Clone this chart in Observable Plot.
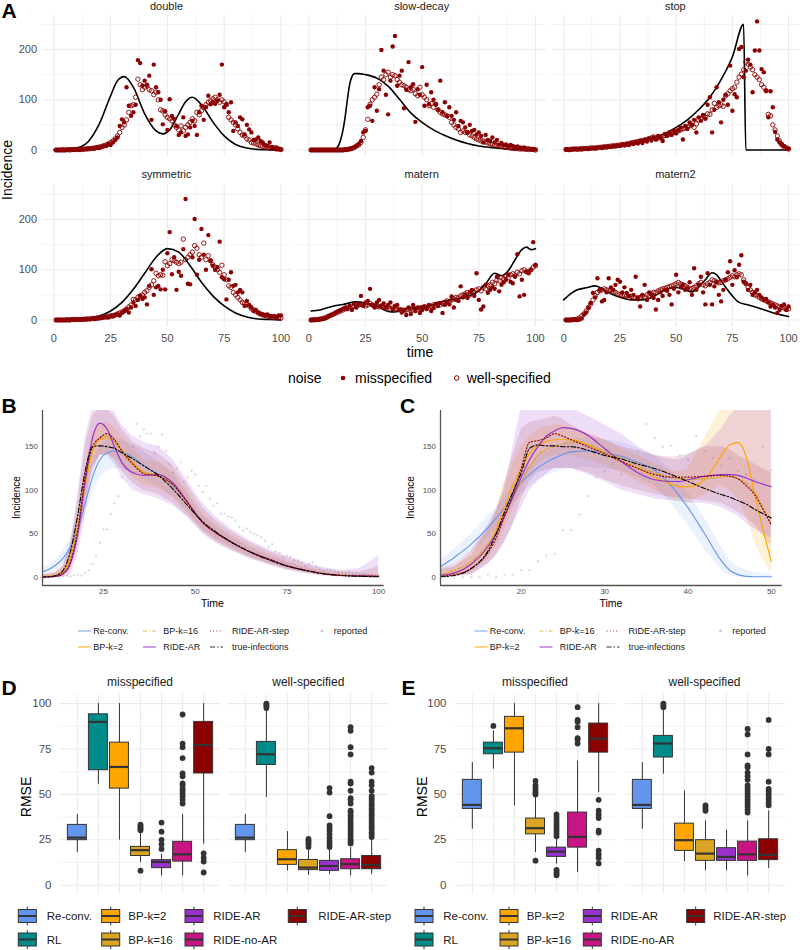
<!DOCTYPE html>
<html><head><meta charset="utf-8">
<script src="https://cdn.jsdelivr.net/npm/d3@7"></script>
<script src="https://cdn.jsdelivr.net/npm/@observablehq/plot@0.6"></script>
<style>
body{margin:0;background:#fff;}
#root{position:relative;width:800px;height:950px;overflow:hidden;background:#fff;}
</style></head><body><div id="root"></div>
<script>
// ---------------- DATA ----------------
const facetNames = ["double","slow-decay","stop","symmetric","matern","matern2"];
const noiseLevels = ["misspecified","well-specified"];

const truthDouble = [[0,0],[5,0.5],[10,4],[15,16],[20,52],[25,108],[28,138],[31,146],[35,125],[40,72],[45,38],[48,32],[51,40],[55,72],[58,96],[61,105],[65,90],[70,56],[75,28],[80,11],[85,4],[90,1],[95,0.3],[100,0]];
const truthSlow = [[1,0],[10,0],[11,1],[12,3],[13,8],[14,20],[15,38],[16,65],[17,100],[18,130],[19,146],[20,152],[22,152],[25,150],[30,143],[35,127],[40,101],[45,74],[50,55],[55,40],[60,29],[65,20],[70,13],[75,8],[80,5],[85,3],[90,1.5],[95,0.5],[100,0]];
const truthStop = [[1,3],[10,4.5],[20,8],[30,14],[40,25],[45,33],[50,45],[55,60],[60,80],[65,105],[70,140],[75,185],[80,250],[81,0],[100,0]];
const truthSym = [[1,0],[5,0.3],[10,1],[15,3],[20,8],[25,18],[30,35],[35,61],[40,93],[45,125],[50,142],[55,135],[60,108],[65,75],[70,48],[75,28],[80,14],[85,6],[90,2],[95,1],[100,0]];
const truthMatern = [[1,18],[5,20],[11,28],[15,31],[21,36],[25,33],[30,28],[35,17],[38,16],[41,21],[45,23],[50,26],[55,31],[60,38],[65,42],[70,47],[75,58],[78,72],[82,93],[85,88],[88,98],[91,120],[94,140],[96,145],[98,140],[100,142]];
const truthMatern2 = [[0,40],[3,52],[6,60],[10,64],[14,68],[18,60],[22,50],[26,44],[30,40],[34,40],[38,43],[42,52],[46,62],[50,65],[54,60],[57,56],[60,65],[63,80],[66,94],[68,90],[70,78],[72,65],[75,48],[78,35],[82,30],[86,25],[90,19],[95,12],[100,7]];

const misDouble = [0,0,0,1,0,0,1,0,1,1, 1,2,1,2,3,2,4,3,5,4, 6,9,8,12,10,15,20,25,48,61, 55,125,88,68,75,90,179,173,128,138, 130,148,60,170,125,115,100,51,77,40, 101,68,62,48,30,35,65,28,31,45, 58,48,30,75,88,60,85,108,91,95, 92,98,110,170,85,91,75,95,38,55, 48,65,61,31,50,41,35,20,21,25, 18,15,10,8,15,6,5,5,2,1];
const wellDouble = [0,0,0,0,0,1,0,1,1,1, 1,1,2,2,2,3,3,4,5,6, 7,8,10,12,15,18,22,28,35,45, 50,60,75,88,90,105,141,130,120,125, 128,120,118,110,115,100,80,78,70,65, 62,58,50,45,40,48,38,45,50,55, 62,58,75,70,78,85,90,95,98,102, 105,100,95,100,96,90,65,60,55,50, 42,35,30,28,22,20,15,14,12,10, 8,7,6,5,4,3,3,2,2,1];
const misSlow = [0,0,0,0,0,0,0,0,0,0, 0,0,0,0,0,0,1,2,3,5, 8,12,18,35,38,85,88,58,125,78, 121,199,158,110,71,138,206,227,128,148, 158,83,120,175,125,131,56,121,110,165, 88,130,91,115,100,91,80,138,75,95, 68,85,68,60,75,48,58,55,45,35, 50,38,40,31,35,28,15,30,20,18, 25,15,20,11,14,10,11,8,10,8, 6,7,5,4,5,3,3,2,2,1];
const wellSlow = [0,0,0,0,0,0,0,0,0,0, 0,0,0,0,0,1,1,2,3,5, 8,10,15,25,40,61,91,100,105,111, 130,145,140,150,155,145,150,148,140,135, 130,128,125,120,118,121,112,108,125,110, 105,100,88,92,85,91,80,75,72,70, 68,65,55,50,45,42,35,38,35,35, 30,28,25,22,20,18,18,16,14,12, 11,10,9,8,7,6,5,5,4,3, 3,3,2,2,2,1,1,1,1,0];
const misStop = [1,0,1,1,2,1,2,1,2,3, 2,3,4,3,4,5,4,6,5,7, 6,8,7,9,8,10,9,12,10,14, 12,15,13,18,14,20,17,22,19,25, 21,28,24,18,32,28,35,30,38,33, 40,45,21,48,42,55,50,60,35,65, 58,70,62,90,105,35,80,125,95,55, 100,110,90,168,78,111,105,201,205,145, 158,180,170,115,198,256,198,161,155,118, 65,117,85,36,21,15,12,8,5,3];
const wellStop = [1,1,1,2,2,2,2,3,3,3, 3,4,4,4,5,5,6,6,7,7, 8,8,9,9,10,11,11,12,13,14, 15,16,17,18,19,20,21,23,24,26, 22,24,25,27,29,30,32,34,35,37, 38,40,42,44,46,48,50,45,52,60, 62,68,65,72,71,80,93,85,88,90, 87,108,112,118,122,125,135,145,151,160, 175,171,165,160,150,145,140,130,125,118, 71,68,50,40,28,18,10,6,3,2];
const misSym = [0,0,0,0,0,1,0,1,0,1, 1,1,2,1,2,2,3,2,3,4, 4,5,6,5,8,7,10,11,9,14, 18,21,15,25,35,28,40,48,42,45, 31,68,101,50,65,68,61,100,61,133, 175,91,125,60,96,88,141,241,72,71, 125,201,90,120,181,130,100,169,118,108, 100,105,156,85,81,41,80,95,68,70, 55,60,55,28,38,30,25,18,20,15, 12,11,10,11,8,7,8,6,9,9];
const wellSym = [0,0,0,0,0,0,0,1,1,1, 1,1,1,2,2,2,3,3,4,4, 5,6,6,7,8,9,10,12,14,16, 18,22,26,30,41,40,45,48,50,55, 58,65,70,78,93,88,90,89,116,108, 112,120,118,115,112,115,161,120,125,130, 135,148,143,130,125,153,120,128,118,110, 105,100,95,109,90,80,68,65,55,50, 45,40,35,33,31,28,22,20,17,14, 12,10,9,8,7,6,5,5,4,4];
const misMatern = [0,1,0,1,1,2,3,5,8,10, 12,15,18,20,22,25,22,28,20,32, 25,30,48,28,35,38,62,30,25,35, 40,28,33,25,30,35,22,28,30,20, 15,20,10,25,12,30,18,25,14,20, 27,22,30,18,24,32,28,34,14,30, 35,31,47,25,40,38,67,45,50,44, 55,60,48,93,40,21,27,70,54,60, 65,62,86,57,70,75,80,90,76,73, 86,131,47,80,50,96,93,100,155,110];
const wellMatern = [0,0,1,1,2,3,4,6,8,10, 12,14,16,18,20,22,24,25,26,27, 28,30,32,30,28,30,33,30,28,27, 26,28,25,24,26,22,24,22,20,21, 20,19,20,21,22,20,23,22,24,25, 26,24,28,27,30,28,32,30,33,35, 38,36,40,42,45,44,48,50,52,55, 50,58,55,60,62,58,65,62,68,70, 75,72,80,78,85,82,88,85,90,92, 88,95,92,98,100,96,95,100,105,108];
const misMatern2 = [0,0,0,0,0,0,1,3,11,15, 24,34,54,45,83,60,37,40,55,83, 65,60,70,80,76,55,65,54,48,60, 50,86,45,27,50,70,40,55,50,44, 21,40,55,48,60,58,50,31,62,90, 55,65,70,60,63,75,50,103,60,70, 86,55,31,93,70,31,67,75,50,37, 60,80,95,117,70,99,85,110,129,76, 73,60,70,50,55,60,50,45,40,42, 35,27,30,25,14,20,28,31,20,27];
const wellMatern2 = [0,0,0,1,1,2,4,8,12,18, 25,32,40,48,55,58,60,62,60,58, 60,57,55,52,50,48,50,48,45,47, 45,44,42,45,48,46,50,48,52,55, 55,58,60,62,63,65,66,68,70,72, 75,72,70,68,65,62,63,65,68,72, 75,70,68,72,75,80,78,76,74,75, 78,80,82,85,88,86,90,92,90,80, 72,65,60,55,50,48,45,42,40,38, 36,34,32,30,28,26,25,24,22,22];

const truthA = [truthDouble, truthSlow, truthStop, truthSym, truthMatern, truthMatern2];
const misA = [misDouble, misSlow, misStop, misSym, misMatern, misMatern2];
const wellA = [wellDouble, wellSlow, wellStop, wellSym, wellMatern, wellMatern2];
const ticksXA = [0,25,50,75,100];
const ticksYA = [0,100,200];
const minorXA = [12.5,37.5,62.5,87.5];
const minorYA = [50,150,250];

// Panel B / C
const methodsLine = ["Re-conv.","BP-k=2","BP-k=16","RIDE-AR","RIDE-AR-step","true-infections"];
const tB = [8,10,12,14,16,18,20,22,24,26,28,30,33,36,40,44,48,52,56,60,65,70,75,80,85,90,95,100];
const reconvB = [6,9,14,22,35,55,85,115,135,143,145,144,138,128,118,105,85,63,50,40,29,21,13,8,4,2.5,1.5,1];
const bpk2B   = [1,1,2,6,22,58,105,145,158,160,155,145,130,120,117,108,85,63,50,40,29,21,13,8,4,2.5,1.5,1];
const bpk16B  = [1,1,2,7,24,60,108,145,160,162,157,147,132,121,116,106,85,63,50,40,29,21,13,8,4,2.5,1.5,1];
const rideArB = [0.5,0.5,1,4,16,50,110,160,177,170,150,132,120,117,118,108,86,63,50,40,29,21,13,8,4,2,1.5,1];
const rideStepB=[0.5,0.5,1,4,18,55,115,150,160,165,158,145,130,119,116,106,85,63,50,40,29,21,13,8,4,2,1.5,1];
const trueB   = [0,0.5,2,8,30,72,122,150,151,150,148,143,136,128,117,101,82,64,51,40,29,20,13,8,4,2,1,0.5];
const rideArLoB = [0,0,0,0,3,25,70,120,140,140,130,115,100,95,90,82,68,50,38,30,21,14,8,4,1,0,0,0];
const rideArHiB = [3,4,6,14,40,95,160,195,195,195,190,175,162,155,150,135,110,85,68,55,42,32,24,17,11,8,10,25];
const rideStepLoB = [0,0,0,1,8,35,85,125,140,142,135,122,108,100,95,85,70,52,40,31,22,15,9,5,2,1,0,0];
const rideStepHiB = [2,3,5,12,35,88,150,185,195,192,185,170,155,148,142,128,105,80,64,52,40,30,22,15,9,6,6,12];
const bpLoB = [0,0,0,2,12,42,88,128,140,142,138,128,115,106,102,92,74,54,42,33,23,16,10,5,2,1,0,0];
const bpHiB = [3,4,5,12,35,75,125,165,175,178,172,162,148,135,132,122,98,74,59,48,36,27,18,12,7,4,3,3];
const reconvLoB = [2,4,8,15,26,44,70,98,115,122,125,125,120,112,104,92,75,55,43,34,24,17,10,5,2,1,0,0];
const reconvHiB = [10,14,20,30,45,68,100,132,150,158,160,158,152,144,133,118,95,71,57,46,34,25,17,11,6,4,3,2];
const reportedStartB = 8;
const reportedB = [0,0,0,0,1,0,1,2,1,2, 3,2,5,8,15,25,40,55,55,73, 85,93,115,125,140,150,176,162,170,165, 165,143,150,164,145,130,120,125,132,110, 115,122,118,105,98,105,90,82,85,73, 73,70,69,65,58,54,56,52,50,48, 46,42,35,38,30,28,23,25,23,20, 19,17,13,15,17,12,10,8,9,8, 7,6,6,5,6,4,5,4,4,3, 3,2,2];
const domainXB = [8.37,101.5], ticksXB = [25,50,75,100];

const tC = [10.3,12,14,16,17,18,19,20,21,22,23,24,25,26,28,30,32,34,36,38,39,40,42,44,45,46,47,48,49,50];
const reconvC = [12,23,38,57,68,80,95,109,118,126,132,137,141,144,145,143,139,132,123,105,93,80,50,19,8,3,1,0.5,0.5,0.5];
const bpk2C   = [2,5,15,35,55,80,105,125,142,152,156,158,158,158,152,142,133,125,115,107,104,104,112,140,152,155,138,95,55,18];
const bpk16C  = [3,8,18,38,52,72,92,110,127,140,147,150,153,155,152,145,137,128,120,115,113,112,113,115,116,113,108,98,80,60];
const rideArC = [2,5,15,35,50,70,92,115,135,150,162,168,172,171,163,148,133,120,112,110,110,112,116,118,118,117,114,110,107,104];
const rideStepC=[1,3,10,28,45,70,95,125,155,157,160,165,162,158,150,142,133,125,118,115,115,115,116,117,116,113,105,95,78,60];
const trueC   = [0.5,2,10,30,50,75,98,120,148,152,151,151,150,150,146,140,136,130,125,118,114,110,102,95,92,88,84,78,73,68];
const rideArLoC = [0,1,2,15,25,40,60,80,100,110,118,125,125,125,118,110,100,95,90,88,87,85,85,80,75,70,62,55,50,45];
const rideArHiC = [10,15,30,60,78,100,150,195,195,195,195,195,195,195,185,175,165,150,140,135,135,140,150,170,185,195,195,195,195,195];
const rideStepLoC = [0,1,3,15,25,40,60,90,110,120,123,125,125,125,120,112,105,100,95,92,91,90,88,85,80,75,68,60,48,35];
const rideStepHiC = [8,12,25,55,75,110,140,170,178,180,182,185,182,175,165,158,150,145,140,138,139,142,150,150,147,140,135,130,125,120];
const bpLoC = [0,1,5,20,35,55,78,100,118,130,136,140,140,140,135,128,120,110,100,90,87,85,95,105,100,90,70,40,20,5];
const bpHiC = [8,12,28,55,75,105,130,150,162,170,173,175,174,172,165,158,148,140,130,122,122,125,160,195,195,195,195,195,195,195];
const reconvLoC = [5,14,28,45,55,68,82,95,104,112,117,120,123,125,126,125,122,115,105,85,72,60,32,8,2,0,0,0,0,0];
const reconvHiC = [20,32,50,70,80,92,107,120,128,138,144,150,154,158,160,158,155,148,140,122,110,98,68,35,20,12,8,5,4,3];
const reportedStartC = 11;
const reportedC = [0,0,0,0,0,3,0,3,3,8, 8,18,25,27,54,54,72,93,115,122, 130,118,128,145,176,160,150,151,140,135, 162,145,137,128,137,122,118,112,150,123];
const domainXC = [10.32,51.3], ticksXC = [20,30,40,50];
const domainYBC = [-9.5,191.6], ticksYBC = [0,50,100,150];

// Panels D / E : box statistics [lower whisker, q1, median, q3, upper whisker]
const methodsBox = ["Re-conv.","RL","BP-k=2","BP-k=16","RIDE-AR","RIDE-no-AR","RIDE-AR-step"];
const boxColors = ["#6495ED","#008B8B","#FFA500","#DAA520","#9932CC","#C71585","#8B0000"];
const D_mis = [[18,24.8,26.2,33.2,39],[55.6,63.3,89.9,94.1,100],[24.8,53.2,65.1,78.5,100],[12.5,16.1,19.3,21.1,29.5],[5.1,9.4,12.8,13.8,17],[5.1,13,17,23.9,39],[22.6,61.5,77.2,89.9,100]];
const D_misOut = [[],[],[],[8,30.2,31,31.8,32.6,33.3],[20,22.5,25,29.5,34.5],[45,47,49,50.5,52,53,55,56,60,61.5,70,76,78,94],[7,13,15,17.5]];
const D_well = [[18,24.8,26.2,33.2,39],[48.3,66.2,72.1,78.9,96],[7.9,11.2,14.3,19.3,29.5],[5.5,8.3,9.7,13.9,19],[6,7.9,10.6,13.4,19.8],[5.1,8.8,11.6,14.3,20.7],[6,8.8,11.2,16.1,25.3]];
const D_wellOut = [[],[97.5,98.5,99.3,100],[],[21,22.5,23.5,24.5,25.5],[21,22.5,24,26,28,30,31.5,33,38,51,53.5],[23,24,25,26.5,28,29.5,31,32.5,34,35.5,37,38.5,40,41,45,47,48,52,56,57,72,76,85,87],[26.5,27.8,29,30.5,31.7,33,34.2,35.6,37,38.4,39.5,41,42.3,43.8,45,46.5,47.7,49,52,55,57,62,64.5]];
const E_mis = [[30.8,42,44.2,58,67.5],[63.9,72.1,75.4,78.5,85],[43.7,73,86.4,92.7,100],[18,28,31.4,36.7,48.3],[11.6,15.6,18.5,20.7,25.3],[7,20.7,26.6,40,68.4],[51,73,80.7,89,100]];
const E_misOut = [[],[87.7],[],[13.5,50,51,52,53.5,55,57.5],[5.5,6.5,7.5,8.5,27,28.5,30,31.5,33,34.5,36,37.5,39],[78,80,81,87,90,91,98],[47,41,39,37,30,29,19,17,15,12]];
const E_well = [[30.8,42,44.2,58,67.5],[61.1,70.3,78,82.2,97],[13,18.9,24.8,33.9,51.9],[7.9,13.4,17.4,24.8,35.4],[7.9,13.4,15.6,20.4,30.3],[5.1,13.4,17,24,35.4],[9.2,13.8,16.7,25.3,40.9]];
const E_wellOut = [[],[98,99,100],[],[41,42,43,44],[],[40,41.5,43,44.5,46,47.5,49,50.5,52,53.5,55,58,60,62,65,66,72,83,86],[44,45.5,47,48.5,50,51.5,53,57,72,75,91]];
const ticksYBox = [0,25,50,75,100], minorYBox = [12.5,37.5,62.5,87.5];

// ---------------- LAYOUT / HELPERS ----------------
const FONT = "'Liberation Sans', Arial, Helvetica, sans-serif";
const root = document.getElementById("root");
const GRID = "#ebebeb", TXT = "#4d4d4d";

function mkPlot(frame, m, opts, marks) {
  const [x0,x1,y0,y1] = frame;
  const p = Plot.plot({
    width: x1-x0+m[0]+m[1], height: y1-y0+m[2]+m[3],
    marginLeft: m[0], marginRight: m[1], marginTop: m[2], marginBottom: m[3],
    style: {fontFamily: FONT, background: "transparent", overflow: "visible"},
    ...opts, marks
  });
  p.style.position = "absolute";
  p.style.left = (x0-m[0]) + "px";
  p.style.top = (y0-m[2]) + "px";
  p.style.maxWidth = "none";
  root.appendChild(p);
}

const ov = d3.select(root).append("svg").attr("width",800).attr("height",950)
  .style("position","absolute").style("left","0px").style("top","0px").style("font-family", FONT);
function txt(x,y,s,o={}) {
  const t = ov.append("text").attr("x",x).attr("y",y).text(s)
    .attr("font-size",o.size||12).attr("fill",o.fill||"#1a1a1a")
    .attr("text-anchor",o.anchor||"start").attr("font-weight",o.weight||"normal");
  if (o.rotate) t.attr("transform",`rotate(${o.rotate},${x},${y})`);
  return t;
}

// ---------------- PANEL A ----------------
const colsA = [[41.6,291.4],[297,546.3],[551.7,799]];
const rowsA = [[14.5,155.4],[184.5,325.4]];
const stripBaseA = [10,177.5];
facetNames.forEach((name,i) => {
  const col = i%3, row = Math.floor(i/3);
  const frame = [colsA[col][0], colsA[col][1], rowsA[row][0], rowsA[row][1]];
  const hasX = row === 1, hasY = col === 0;
  const marks = [
    Plot.ruleY(minorYA, {stroke: GRID, strokeWidth: 0.6}),
    Plot.ruleX(minorXA, {stroke: GRID, strokeWidth: 0.6}),
    Plot.ruleY(ticksYA, {stroke: GRID, strokeWidth: 1.1}),
    Plot.ruleX(ticksXA, {stroke: GRID, strokeWidth: 1.1}),
    Plot.line(truthA[i], {x: d=>d[0], y: d=>d[1], stroke: "black", strokeWidth: 1.6, curve: "monotone-x"}),
    Plot.dot(misA[i], {x: (d,j)=>j+1, y: d=>d, r: 2.2, fill: "#8B0000"}),
    Plot.dot(wellA[i], {x: (d,j)=>j+1, y: d=>d, r: 2.2, stroke: "#8B0000", strokeWidth: 0.9, fill: "none"})
  ];
  if (hasX) marks.push(Plot.axisX(ticksXA, {tickSize: 0, tickPadding: 8, fontSize: 11, color: TXT, label: null}));
  if (hasY) marks.push(Plot.axisY(ticksYA, {tickSize: 0, tickPadding: 5.5, fontSize: 11, color: TXT, label: null}));
  mkPlot(frame, [40,5,5,25], {
    x: Object.assign({domain: [-5,105]}, hasX ? {} : {axis: null}),
    y: Object.assign({domain: [-12.75,267.75]}, hasY ? {} : {axis: null})
  }, marks);
  txt((frame[0]+frame[1])/2, stripBaseA[row], name, {size: 11, anchor: "middle"});
});
txt(1.5, 18.3, "A", {size: 21, weight: "bold", fill: "#000"});
txt(12, 170, "Incidence", {size: 14, anchor: "middle", rotate: -90, fill: "#000"});
txt(420, 357, "time", {size: 14, anchor: "middle", fill: "#000"});
txt(288, 383, "noise", {size: 14, fill: "#000"});
ov.append("circle").attr("cx",343).attr("cy",378).attr("r",2.3).attr("fill","#8B0000");
txt(355, 383, noiseLevels[0], {size: 14, fill: "#000"});
ov.append("circle").attr("cx",456.7).attr("cy",378).attr("r",2.3).attr("fill","none").attr("stroke","#8B0000").attr("stroke-width",1);
txt(466.7, 383, noiseLevels[1], {size: 14, fill: "#000"});

// ---------------- PANELS B / C ----------------
const lineStyles = [
  {stroke: "#6495ED", width: 1.1, dash: null},
  {stroke: "#FFA500", width: 1.2, dash: null},
  {stroke: "#DAA520", width: 1.2, dash: "4,2,1,2"},
  {stroke: "#9932CC", width: 1.2, dash: null},
  {stroke: "#8B0000", width: 1.2, dash: "1,2.2"},
  {stroke: "#000000", width: 1.1, dash: "5,2,1.5,2"}
];
function seriesPanel(frame, t, lines, ribbons, repStart, rep, domX, ticksX) {
  const marks = [];
  const ribCols = ["#6495ED","#FFA500","#8B0000","#9932CC"];
  const ribOp = [0.13,0.16,0.12,0.16];
  marks.push(Plot.dot(rep, {x: (d,j)=>repStart+j, y: d=>d, r: 1.2, fill: "#bdbdbd", fillOpacity: 0.5}));
  ribbons.forEach((rb,k) => marks.push(Plot.areaY(t, {x: d=>d, y1: (d,j)=>rb[0][j], y2: (d,j)=>rb[1][j], fill: ribCols[k], fillOpacity: ribOp[k], clip: true})));
  lines.forEach((ln,k) => {
    const s = lineStyles[k];
    marks.push(Plot.line(t, {x: d=>d, y: (d,j)=>ln[j], stroke: s.stroke, strokeWidth: s.width, strokeDasharray: s.dash, curve: "monotone-x", clip: true}));
  });
  marks.push(Plot.ruleX([domX[0]], {stroke: "#555", strokeWidth: 1.3}));
  marks.push(Plot.ruleY([domainYBC[0]], {stroke: "#555", strokeWidth: 1.3}));
  marks.push(Plot.axisX(ticksX, {tickSize: 0, tickPadding: 3, fontSize: 8, color: TXT, label: null}));
  marks.push(Plot.axisY(ticksYBC, {tickSize: 0, tickPadding: 4.5, fontSize: 8, color: TXT, label: null}));
  mkPlot(frame, [40,10,8,20], {x: {domain: domX}, y: {domain: domainYBC}}, marks);
}
seriesPanel([41.7,383.3,410,585], tB, [reconvB,bpk2B,bpk16B,rideArB,rideStepB,trueB],
  [[reconvLoB,reconvHiB],[bpLoB,bpHiB],[rideStepLoB,rideStepHiB],[rideArLoB,rideArHiB]], reportedStartB, reportedB, domainXB, ticksXB);
seriesPanel([440,781.7,410,585], tC, [reconvC,bpk2C,bpk16C,rideArC,rideStepC,trueC],
  [[reconvLoC,reconvHiC],[bpLoC,bpHiC],[rideStepLoC,rideStepHiC],[rideArLoC,rideArHiC]], reportedStartC, reportedC, domainXC, ticksXC);
[[0,212.5],[398.5,611]].forEach(([dx,cx],k) => {
  txt(1.5+dx, 413, k===0?"B":"C", {size: 21, weight: "bold", fill: "#000"});
  txt(20+dx-(k?4.5:0), 497.5, "Incidence", {size: 10, anchor: "middle", rotate: -90, fill: "#000"});
  txt(cx, 606.5, "Time", {size: 10.5, anchor: "middle", fill: "#000"});
  const legendOrder = [[0,0],[2,1],[4,2],[1,0],[3,1],[5,2]];
  const colKey = [78,143,210], colTxt = [93.3,163.3,232];
  legendOrder.forEach(([mi,c],n) => {
    const y = n<3 ? 631 : 647;
    const s = lineStyles[mi];
    const off = dx - (k ? 2 : 0);
    ov.append("line").attr("x1",colKey[c]+off).attr("x2",colKey[c]+off+13).attr("y1",y).attr("y2",y)
      .attr("stroke",s.stroke).attr("stroke-width",s.width).attr("stroke-dasharray",s.dash).attr("stroke-opacity",0.8);
    txt(colTxt[c]+off, y+3.3, methodsLine[mi], {size: 9, fill: "#1a1a1a"});
  });
  ov.append("circle").attr("cx",328+dx-6).attr("cy",631).attr("r",1.4).attr("fill","#c8c8c8");
  txt(341.7+dx-8, 634.3, "reported", {size: 9, fill: "#1a1a1a"});
});

// ---------------- PANELS D / E ----------------
function boxFacet(frame, stats, outs, hasY, name) {
  const idx = d3.range(stats.length);
  const pts = [];
  outs.forEach((arr,i) => arr.forEach(v => pts.push([i+1, v])));
  const marks = [
    Plot.ruleY(minorYBox, {stroke: GRID, strokeWidth: 0.6}),
    Plot.ruleY(ticksYBox, {stroke: GRID, strokeWidth: 1.1}),
    Plot.ruleX(idx, {x: i=>i+1, stroke: GRID, strokeWidth: 1.1}),
    Plot.ruleX(idx, {x: i=>i+1, y1: i=>stats[i][0], y2: i=>stats[i][4], stroke: "#333", strokeWidth: 1}),
    Plot.rect(idx, {x1: i=>i+1-0.45, x2: i=>i+1+0.45, y1: i=>stats[i][1], y2: i=>stats[i][3], fill: i=>boxColors[i], stroke: "#333", strokeWidth: 1}),
    Plot.ruleY(idx, {y: i=>stats[i][2], x1: i=>i+1-0.45, x2: i=>i+1+0.45, stroke: "#333", strokeWidth: 2.2}),
    Plot.dot(pts, {x: d=>d[0], y: d=>d[1], r: 2.9, fill: "#333"})
  ];
  if (hasY) marks.push(Plot.axisY(ticksYBox, {tickSize: 0, tickPadding: 9, fontSize: 11.5, color: TXT, label: null}));
  mkPlot(frame, [45,5,5,5], {x: {domain: [0.2,7.8], axis: null}, y: Object.assign({domain: [-5,105]}, hasY ? {} : {axis: null}), color: {type: "identity"}}, marks);
  txt((frame[0]+frame[1])/2, 685.5, name, {size: 12, anchor: "middle"});
}
const yBox = [693.6, 893.4];
boxFacet([60,220,...yBox], D_mis, D_misOut, true, noiseLevels[0]);
boxFacet([228.3,388.3,...yBox], D_well, D_wellOut, false, noiseLevels[1]);
boxFacet([455,615,...yBox], E_mis, E_misOut, true, noiseLevels[0]);
boxFacet([624.5,784.5,...yBox], E_well, E_wellOut, false, noiseLevels[1]);
txt(1.5, 695, "D", {size: 21, weight: "bold", fill: "#000"});
txt(401.5, 695, "E", {size: 21, weight: "bold", fill: "#000"});
txt(31, 797, "RMSE", {size: 14, anchor: "middle", rotate: -90, fill: "#000"});
txt(427, 797, "RMSE", {size: 14, anchor: "middle", rotate: -90, fill: "#000"});
[[[18.3,101.7,185,288.3],[46.7,128.3,213.3,318.3]],[[415,500,583.3,686.7],[443.3,526.7,610.7,713.3]]].forEach(([keys,labs]) => {
  methodsBox.forEach((m,i) => {
    const c = Math.floor(i/2), r = i%2;
    const y = r===0 ? 916 : 939.5;
    const kx = keys[c];
    ov.append("line").attr("x1",kx+9).attr("x2",kx+9).attr("y1",y-9.5).attr("y2",y+9.5).attr("stroke","#333").attr("stroke-width",1);
    ov.append("rect").attr("x",kx).attr("y",y-6.5).attr("width",18).attr("height",13).attr("fill",boxColors[i]).attr("stroke","#333").attr("stroke-width",1);
    ov.append("line").attr("x1",kx).attr("x2",kx+18).attr("y1",y).attr("y2",y).attr("stroke","#333").attr("stroke-width",2);
    txt(labs[c], y+4, m, {size: 11.5, fill: "#1a1a1a"});
  });
});
</script></body></html>
